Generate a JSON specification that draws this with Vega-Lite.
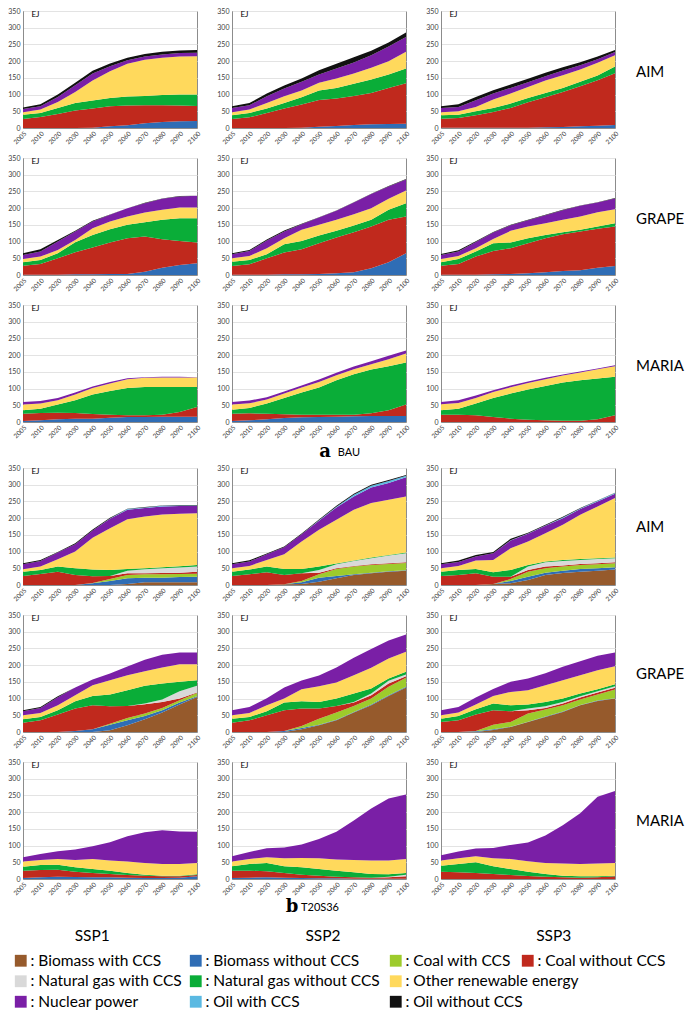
{
  "$schema": "https://vega.github.io/schema/vega-lite/v6.json",
  "background": "white",
  "padding": {"left": 7, "top": 6, "right": 0, "bottom": 0},
  "config": {
    "font": "Lato",
    "view": {"stroke": "#8c8c8c", "strokeWidth": 1},
    "axis": {"labelFont": "Lato", "labelColor": "#404040", "domainColor": "#8c8c8c", "ticks": false, "gridColor": "#e3e3e3"},
    "legend": {"symbolType": "square", "symbolSize": 140, "symbolStrokeWidth": 0, "labelFont": "Lato", "labelFontSize": 15.5, "labelColor": "black", "rowPadding": 3.5, "labelOffset": 2, "labelLimit": 300}
  },
  "datasets": {
    "energy": [
      {"scenario":"BAU","model":"AIM","ssp":"SSP1","source":"Biomass without CCS","2005":0,"2010":0,"2020":0,"2030":0,"2040":1,"2050":5,"2060":8,"2070":14,"2080":18,"2090":20,"2100":21},
      {"scenario":"BAU","model":"AIM","ssp":"SSP1","source":"Coal without CCS","2005":27,"2010":33,"2020":42,"2030":52,"2040":57,"2050":60,"2060":59,"2070":54,"2080":50,"2090":47,"2100":45},
      {"scenario":"BAU","model":"AIM","ssp":"SSP1","source":"Natural gas without CCS","2005":13,"2010":12,"2020":18,"2030":23,"2040":24,"2050":25,"2060":27,"2070":28,"2080":31,"2090":33,"2100":34},
      {"scenario":"BAU","model":"AIM","ssp":"SSP1","source":"Other renewable energy","2005":7,"2010":10,"2020":18,"2030":33,"2040":60,"2050":80,"2060":98,"2070":108,"2080":111,"2090":114,"2100":115},
      {"scenario":"BAU","model":"AIM","ssp":"SSP1","source":"Nuclear power","2005":10,"2010":10,"2020":15,"2030":20,"2040":21,"2050":15,"2060":11,"2070":10,"2080":10,"2090":10,"2100":10},
      {"scenario":"BAU","model":"AIM","ssp":"SSP1","source":"Oil without CCS","2005":4,"2010":6,"2020":7,"2030":7,"2040":8,"2050":8,"2060":7,"2070":7,"2080":8,"2090":8,"2100":8},

      {"scenario":"BAU","model":"AIM","ssp":"SSP2","source":"Biomass without CCS","2005":0,"2010":0,"2020":0,"2030":0,"2040":1,"2050":4,"2060":6,"2070":9,"2080":11,"2090":12,"2100":13},
      {"scenario":"BAU","model":"AIM","ssp":"SSP2","source":"Coal without CCS","2005":27,"2010":32,"2020":45,"2030":58,"2040":69,"2050":80,"2060":82,"2070":87,"2080":94,"2090":108,"2100":121},
      {"scenario":"BAU","model":"AIM","ssp":"SSP2","source":"Natural gas without CCS","2005":11,"2010":13,"2020":13,"2030":17,"2040":22,"2050":28,"2060":32,"2070":36,"2080":40,"2090":40,"2100":44},
      {"scenario":"BAU","model":"AIM","ssp":"SSP2","source":"Other renewable energy","2005":9,"2010":10,"2020":17,"2030":20,"2040":20,"2050":23,"2060":28,"2070":31,"2080":35,"2090":40,"2100":50},
      {"scenario":"BAU","model":"AIM","ssp":"SSP2","source":"Nuclear power","2005":13,"2010":13,"2020":20,"2030":23,"2040":26,"2050":25,"2060":30,"2070":33,"2080":38,"2090":44,"2100":44},
      {"scenario":"BAU","model":"AIM","ssp":"SSP2","source":"Oil without CCS","2005":5,"2010":7,"2020":8,"2030":9,"2040":10,"2050":13,"2060":14,"2070":16,"2080":13,"2090":12,"2100":14},

      {"scenario":"BAU","model":"AIM","ssp":"SSP3","source":"Biomass without CCS","2005":1,"2010":1,"2020":1,"2030":1,"2040":1,"2050":1,"2060":2,"2070":3,"2080":5,"2090":7,"2100":9},
      {"scenario":"BAU","model":"AIM","ssp":"SSP3","source":"Coal without CCS","2005":27,"2010":29,"2020":37,"2030":47,"2040":59,"2050":76,"2060":90,"2070":105,"2080":120,"2090":136,"2100":155},
      {"scenario":"BAU","model":"AIM","ssp":"SSP3","source":"Natural gas without CCS","2005":10,"2010":10,"2020":12,"2030":12,"2040":13,"2050":13,"2060":13,"2070":12,"2080":13,"2090":14,"2100":20},
      {"scenario":"BAU","model":"AIM","ssp":"SSP3","source":"Other renewable energy","2005":9,"2010":10,"2020":13,"2030":25,"2040":30,"2050":33,"2060":37,"2070":38,"2080":37,"2090":38,"2100":34},
      {"scenario":"BAU","model":"AIM","ssp":"SSP3","source":"Nuclear power","2005":13,"2010":13,"2020":20,"2030":18,"2040":17,"2050":14,"2060":13,"2070":14,"2080":13,"2090":11,"2100":9},
      {"scenario":"BAU","model":"AIM","ssp":"SSP3","source":"Oil without CCS","2005":5,"2010":8,"2020":10,"2030":10,"2040":10,"2050":10,"2060":10,"2070":10,"2080":9,"2090":8,"2100":6},

      {"scenario":"BAU","model":"GRAPE","ssp":"SSP1","source":"Biomass without CCS","2005":1,"2010":1,"2020":1,"2030":2,"2040":2,"2050":3,"2060":3,"2070":10,"2080":22,"2090":30,"2100":35},
      {"scenario":"BAU","model":"GRAPE","ssp":"SSP1","source":"Coal without CCS","2005":27,"2010":32,"2020":49,"2030":66,"2040":80,"2050":94,"2060":107,"2070":105,"2080":85,"2090":72,"2100":62},
      {"scenario":"BAU","model":"GRAPE","ssp":"SSP1","source":"Natural gas without CCS","2005":10,"2010":12,"2020":15,"2030":30,"2040":38,"2050":40,"2060":40,"2070":43,"2080":58,"2090":68,"2100":73},
      {"scenario":"BAU","model":"GRAPE","ssp":"SSP1","source":"Other renewable energy","2005":10,"2010":10,"2020":10,"2030":7,"2040":20,"2050":23,"2060":25,"2070":29,"2080":30,"2090":32,"2100":32},
      {"scenario":"BAU","model":"GRAPE","ssp":"SSP1","source":"Nuclear power","2005":12,"2010":15,"2020":25,"2030":25,"2040":20,"2050":20,"2060":25,"2070":28,"2080":33,"2090":33,"2100":35},
      {"scenario":"BAU","model":"GRAPE","ssp":"SSP1","source":"Oil without CCS","2005":5,"2010":7,"2020":5,"2030":2,"2040":2,"2050":1,"2060":0,"2070":1,"2080":1,"2090":1,"2100":0},

      {"scenario":"BAU","model":"GRAPE","ssp":"SSP2","source":"Biomass without CCS","2005":1,"2010":1,"2020":1,"2030":2,"2040":2,"2050":3,"2060":5,"2070":8,"2080":20,"2090":38,"2100":65},
      {"scenario":"BAU","model":"GRAPE","ssp":"SSP2","source":"Coal without CCS","2005":26,"2010":31,"2020":49,"2030":65,"2040":75,"2050":92,"2060":107,"2070":120,"2080":125,"2090":127,"2100":110},
      {"scenario":"BAU","model":"GRAPE","ssp":"SSP2","source":"Natural gas without CCS","2005":13,"2010":13,"2020":12,"2030":25,"2040":25,"2050":23,"2060":20,"2070":20,"2080":20,"2090":30,"2100":40},
      {"scenario":"BAU","model":"GRAPE","ssp":"SSP2","source":"Other renewable energy","2005":10,"2010":12,"2020":18,"2030":18,"2040":33,"2050":32,"2060":33,"2070":34,"2080":35,"2090":33,"2100":38},
      {"scenario":"BAU","model":"GRAPE","ssp":"SSP2","source":"Nuclear power","2005":12,"2010":15,"2020":23,"2030":20,"2040":17,"2050":22,"2060":27,"2070":35,"2080":42,"2090":37,"2100":33},
      {"scenario":"BAU","model":"GRAPE","ssp":"SSP2","source":"Oil without CCS","2005":3,"2010":3,"2020":3,"2030":3,"2040":1,"2050":1,"2060":1,"2070":1,"2080":1,"2090":1,"2100":1},

      {"scenario":"BAU","model":"GRAPE","ssp":"SSP3","source":"Biomass without CCS","2005":1,"2010":1,"2020":1,"2030":2,"2040":3,"2050":5,"2060":8,"2070":12,"2080":14,"2090":22,"2100":27},
      {"scenario":"BAU","model":"GRAPE","ssp":"SSP3","source":"Coal without CCS","2005":27,"2010":32,"2020":54,"2030":70,"2040":77,"2050":90,"2060":102,"2070":110,"2080":116,"2090":116,"2100":118},
      {"scenario":"BAU","model":"GRAPE","ssp":"SSP3","source":"Natural gas without CCS","2005":10,"2010":15,"2020":15,"2030":23,"2040":17,"2050":15,"2060":10,"2070":6,"2080":5,"2090":7,"2100":10},
      {"scenario":"BAU","model":"GRAPE","ssp":"SSP3","source":"Other renewable energy","2005":10,"2010":9,"2020":10,"2030":13,"2040":35,"2050":35,"2060":35,"2070":37,"2080":40,"2090":43,"2100":42},
      {"scenario":"BAU","model":"GRAPE","ssp":"SSP3","source":"Nuclear power","2005":12,"2010":13,"2020":19,"2030":19,"2040":17,"2050":19,"2060":24,"2070":29,"2080":32,"2090":29,"2100":32},
      {"scenario":"BAU","model":"GRAPE","ssp":"SSP3","source":"Oil without CCS","2005":3,"2010":4,"2020":2,"2030":2,"2040":1,"2050":1,"2060":1,"2070":1,"2080":1,"2090":1,"2100":1},

      {"scenario":"BAU","model":"MARIA","ssp":"SSP1","source":"Biomass without CCS","2005":3,"2010":5,"2020":8,"2030":10,"2040":10,"2050":13,"2060":15,"2070":15,"2080":16,"2090":16,"2100":16},
      {"scenario":"BAU","model":"MARIA","ssp":"SSP1","source":"Coal without CCS","2005":22,"2010":22,"2020":20,"2030":17,"2040":14,"2050":9,"2060":5,"2070":5,"2080":6,"2090":14,"2100":29},
      {"scenario":"BAU","model":"MARIA","ssp":"SSP1","source":"Natural gas without CCS","2005":10,"2010":13,"2020":24,"2030":38,"2040":58,"2050":71,"2060":82,"2070":85,"2080":83,"2090":75,"2100":60},
      {"scenario":"BAU","model":"MARIA","ssp":"SSP1","source":"Other renewable energy","2005":17,"2010":15,"2020":13,"2030":17,"2040":20,"2050":22,"2060":26,"2070":27,"2080":28,"2090":28,"2100":28},
      {"scenario":"BAU","model":"MARIA","ssp":"SSP1","source":"Nuclear power","2005":8,"2010":8,"2020":7,"2030":6,"2040":4,"2050":5,"2060":3,"2070":2,"2080":2,"2090":2,"2100":1},

      {"scenario":"BAU","model":"MARIA","ssp":"SSP2","source":"Biomass without CCS","2005":3,"2010":5,"2020":8,"2030":12,"2040":14,"2050":15,"2060":16,"2070":17,"2080":18,"2090":18,"2100":18},
      {"scenario":"BAU","model":"MARIA","ssp":"SSP2","source":"Coal without CCS","2005":22,"2010":21,"2020":17,"2030":11,"2040":8,"2050":7,"2060":6,"2070":5,"2080":8,"2090":17,"2100":34},
      {"scenario":"BAU","model":"MARIA","ssp":"SSP2","source":"Natural gas without CCS","2005":12,"2010":16,"2020":30,"2030":49,"2040":66,"2050":81,"2060":103,"2070":121,"2080":131,"2090":132,"2100":126},
      {"scenario":"BAU","model":"MARIA","ssp":"SSP2","source":"Other renewable energy","2005":15,"2010":14,"2020":12,"2030":13,"2040":15,"2050":17,"2060":15,"2070":15,"2080":16,"2090":21,"2100":27},
      {"scenario":"BAU","model":"MARIA","ssp":"SSP2","source":"Nuclear power","2005":8,"2010":8,"2020":7,"2030":6,"2040":6,"2050":7,"2060":7,"2070":8,"2080":9,"2090":10,"2100":9},

      {"scenario":"BAU","model":"MARIA","ssp":"SSP3","source":"Coal without CCS","2005":22,"2010":22,"2020":20,"2030":15,"2040":10,"2050":7,"2060":5,"2070":4,"2080":4,"2090":8,"2100":20},
      {"scenario":"BAU","model":"MARIA","ssp":"SSP3","source":"Natural gas without CCS","2005":13,"2010":18,"2020":35,"2030":57,"2040":75,"2050":90,"2060":103,"2070":114,"2080":121,"2090":122,"2100":115},
      {"scenario":"BAU","model":"MARIA","ssp":"SSP3","source":"Other renewable energy","2005":18,"2010":17,"2020":17,"2030":18,"2040":19,"2050":20,"2060":20,"2070":21,"2080":23,"2090":28,"2100":32},
      {"scenario":"BAU","model":"MARIA","ssp":"SSP3","source":"Nuclear power","2005":7,"2010":8,"2020":7,"2030":5,"2040":5,"2050":4,"2060":4,"2070":3,"2080":3,"2090":2,"2100":3},

      {"scenario":"T20S36","model":"AIM","ssp":"SSP1","source":"Biomass with CCS","2005":0,"2010":0,"2020":0,"2030":0,"2040":0,"2050":0,"2060":3,"2070":8,"2080":8,"2090":8,"2100":8},
      {"scenario":"T20S36","model":"AIM","ssp":"SSP1","source":"Biomass without CCS","2005":0,"2010":0,"2020":0,"2030":0,"2040":5,"2050":12,"2060":17,"2070":14,"2080":14,"2090":16,"2100":17},
      {"scenario":"T20S36","model":"AIM","ssp":"SSP1","source":"Coal with CCS","2005":0,"2010":0,"2020":0,"2030":0,"2040":1,"2050":6,"2060":10,"2070":10,"2080":10,"2090":9,"2100":9},
      {"scenario":"T20S36","model":"AIM","ssp":"SSP1","source":"Coal without CCS","2005":27,"2010":33,"2020":40,"2030":30,"2040":20,"2050":9,"2060":5,"2070":3,"2080":4,"2090":4,"2100":6},
      {"scenario":"T20S36","model":"AIM","ssp":"SSP1","source":"Natural gas with CCS","2005":0,"2010":0,"2020":0,"2030":0,"2040":0,"2050":0,"2060":8,"2070":12,"2080":14,"2090":15,"2100":15},
      {"scenario":"T20S36","model":"AIM","ssp":"SSP1","source":"Natural gas without CCS","2005":13,"2010":12,"2020":15,"2030":20,"2040":20,"2050":18,"2060":5,"2070":3,"2080":3,"2090":4,"2100":5},
      {"scenario":"T20S36","model":"AIM","ssp":"SSP1","source":"Other renewable energy","2005":7,"2010":10,"2020":22,"2030":50,"2040":95,"2050":125,"2060":149,"2070":155,"2080":158,"2090":157,"2100":155},
      {"scenario":"T20S36","model":"AIM","ssp":"SSP1","source":"Nuclear power","2005":15,"2010":17,"2020":20,"2030":22,"2040":22,"2050":28,"2060":28,"2070":25,"2080":24,"2090":23,"2100":21},
      {"scenario":"T20S36","model":"AIM","ssp":"SSP1","source":"Oil with CCS","2005":0,"2010":0,"2020":0,"2030":0,"2040":0,"2050":1,"2060":2,"2070":2,"2080":2,"2090":2,"2100":2},
      {"scenario":"T20S36","model":"AIM","ssp":"SSP1","source":"Oil without CCS","2005":3,"2010":3,"2020":2,"2030":3,"2040":3,"2050":2,"2060":1,"2070":1,"2080":1,"2090":1,"2100":1},

      {"scenario":"T20S36","model":"AIM","ssp":"SSP2","source":"Biomass with CCS","2005":0,"2010":0,"2020":0,"2030":2,"2040":3,"2050":10,"2060":20,"2070":30,"2080":35,"2090":40,"2100":43},
      {"scenario":"T20S36","model":"AIM","ssp":"SSP2","source":"Biomass without CCS","2005":0,"2010":0,"2020":0,"2030":0,"2040":5,"2050":12,"2060":7,"2070":2,"2080":2,"2090":1,"2100":1},
      {"scenario":"T20S36","model":"AIM","ssp":"SSP2","source":"Coal with CCS","2005":0,"2010":0,"2020":0,"2030":0,"2040":4,"2050":10,"2060":21,"2070":23,"2080":23,"2090":22,"2100":22},
      {"scenario":"T20S36","model":"AIM","ssp":"SSP2","source":"Coal without CCS","2005":27,"2010":32,"2020":38,"2030":28,"2040":23,"2050":5,"2060":2,"2070":2,"2080":2,"2090":2,"2100":2},
      {"scenario":"T20S36","model":"AIM","ssp":"SSP2","source":"Natural gas with CCS","2005":0,"2010":0,"2020":0,"2030":0,"2040":0,"2050":8,"2060":12,"2070":15,"2080":18,"2090":23,"2100":27},
      {"scenario":"T20S36","model":"AIM","ssp":"SSP2","source":"Natural gas without CCS","2005":13,"2010":14,"2020":17,"2030":18,"2040":13,"2050":10,"2060":2,"2070":1,"2080":2,"2090":2,"2100":2},
      {"scenario":"T20S36","model":"AIM","ssp":"SSP2","source":"Other renewable energy","2005":10,"2010":11,"2020":20,"2030":44,"2040":82,"2050":110,"2060":131,"2070":152,"2080":163,"2090":165,"2100":168},
      {"scenario":"T20S36","model":"AIM","ssp":"SSP2","source":"Nuclear power","2005":12,"2010":13,"2020":17,"2030":21,"2040":22,"2050":27,"2060":37,"2070":40,"2080":47,"2090":50,"2100":57},
      {"scenario":"T20S36","model":"AIM","ssp":"SSP2","source":"Oil with CCS","2005":0,"2010":0,"2020":0,"2030":0,"2040":0,"2050":2,"2060":2,"2070":5,"2080":5,"2090":6,"2100":5},
      {"scenario":"T20S36","model":"AIM","ssp":"SSP2","source":"Oil without CCS","2005":3,"2010":4,"2020":2,"2030":2,"2040":2,"2050":2,"2060":3,"2070":3,"2080":3,"2090":3,"2100":2},

      {"scenario":"T20S36","model":"AIM","ssp":"SSP3","source":"Biomass with CCS","2005":0,"2010":0,"2020":0,"2030":3,"2040":5,"2050":15,"2060":30,"2070":36,"2080":40,"2090":43,"2100":46},
      {"scenario":"T20S36","model":"AIM","ssp":"SSP3","source":"Biomass without CCS","2005":0,"2010":0,"2020":0,"2030":0,"2040":7,"2050":10,"2060":7,"2070":7,"2080":8,"2090":7,"2100":7},
      {"scenario":"T20S36","model":"AIM","ssp":"SSP3","source":"Coal with CCS","2005":0,"2010":0,"2020":0,"2030":0,"2040":6,"2050":15,"2060":13,"2070":12,"2080":12,"2090":12,"2100":12},
      {"scenario":"T20S36","model":"AIM","ssp":"SSP3","source":"Coal without CCS","2005":27,"2010":30,"2020":35,"2030":22,"2040":7,"2050":5,"2060":5,"2070":3,"2080":3,"2090":3,"2100":3},
      {"scenario":"T20S36","model":"AIM","ssp":"SSP3","source":"Natural gas with CCS","2005":0,"2010":0,"2020":0,"2030":0,"2040":0,"2050":10,"2060":13,"2070":14,"2080":12,"2090":13,"2100":12},
      {"scenario":"T20S36","model":"AIM","ssp":"SSP3","source":"Natural gas without CCS","2005":13,"2010":15,"2020":13,"2030":13,"2040":20,"2050":5,"2060":2,"2070":3,"2080":3,"2090":2,"2100":2},
      {"scenario":"T20S36","model":"AIM","ssp":"SSP3","source":"Other renewable energy","2005":10,"2010":12,"2020":25,"2030":37,"2040":65,"2050":70,"2060":85,"2070":105,"2080":132,"2090":155,"2100":178},
      {"scenario":"T20S36","model":"AIM","ssp":"SSP3","source":"Nuclear power","2005":12,"2010":12,"2020":12,"2030":20,"2040":23,"2050":23,"2060":22,"2070":20,"2080":17,"2090":15,"2100":13},
      {"scenario":"T20S36","model":"AIM","ssp":"SSP3","source":"Oil with CCS","2005":0,"2010":0,"2020":0,"2030":0,"2040":1,"2050":1,"2060":1,"2070":2,"2080":2,"2090":2,"2100":2},
      {"scenario":"T20S36","model":"AIM","ssp":"SSP3","source":"Oil without CCS","2005":3,"2010":4,"2020":5,"2030":4,"2040":4,"2050":2,"2060":2,"2070":2,"2080":1,"2090":1,"2100":1},

      {"scenario":"T20S36","model":"GRAPE","ssp":"SSP1","source":"Biomass with CCS","2005":0,"2010":0,"2020":0,"2030":0,"2040":0,"2050":5,"2060":20,"2070":38,"2080":58,"2090":82,"2100":105},
      {"scenario":"T20S36","model":"GRAPE","ssp":"SSP1","source":"Biomass without CCS","2005":0,"2010":0,"2020":0,"2030":3,"2040":8,"2050":17,"2060":15,"2070":10,"2080":7,"2090":6,"2100":2},
      {"scenario":"T20S36","model":"GRAPE","ssp":"SSP1","source":"Coal with CCS","2005":0,"2010":0,"2020":0,"2030":0,"2040":0,"2050":3,"2060":7,"2070":7,"2080":7,"2090":7,"2100":10},
      {"scenario":"T20S36","model":"GRAPE","ssp":"SSP1","source":"Coal without CCS","2005":28,"2010":35,"2020":52,"2030":67,"2040":72,"2050":52,"2060":36,"2070":28,"2080":18,"2090":5,"2100":1},
      {"scenario":"T20S36","model":"GRAPE","ssp":"SSP1","source":"Natural gas with CCS","2005":0,"2010":0,"2020":0,"2030":0,"2040":0,"2050":0,"2060":0,"2070":2,"2080":7,"2090":22,"2100":20},
      {"scenario":"T20S36","model":"GRAPE","ssp":"SSP1","source":"Natural gas without CCS","2005":10,"2010":10,"2020":13,"2030":22,"2040":28,"2050":35,"2060":47,"2070":53,"2080":48,"2090":28,"2100":17},
      {"scenario":"T20S36","model":"GRAPE","ssp":"SSP1","source":"Other renewable energy","2005":12,"2010":12,"2020":15,"2030":18,"2040":32,"2050":43,"2060":45,"2070":44,"2080":48,"2090":53,"2100":48},
      {"scenario":"T20S36","model":"GRAPE","ssp":"SSP1","source":"Nuclear power","2005":12,"2010":15,"2020":24,"2030":23,"2040":17,"2050":20,"2060":26,"2070":34,"2080":38,"2090":35,"2100":35},
      {"scenario":"T20S36","model":"GRAPE","ssp":"SSP1","source":"Oil without CCS","2005":3,"2010":3,"2020":3,"2030":0,"2040":0,"2050":0,"2060":0,"2070":0,"2080":0,"2090":0,"2100":0},

      {"scenario":"T20S36","model":"GRAPE","ssp":"SSP2","source":"Biomass with CCS","2005":0,"2010":0,"2020":0,"2030":0,"2040":8,"2050":20,"2060":35,"2070":58,"2080":80,"2090":108,"2100":133},
      {"scenario":"T20S36","model":"GRAPE","ssp":"SSP2","source":"Biomass without CCS","2005":0,"2010":0,"2020":0,"2030":3,"2040":4,"2050":2,"2060":2,"2070":2,"2080":2,"2090":2,"2100":2},
      {"scenario":"T20S36","model":"GRAPE","ssp":"SSP2","source":"Coal with CCS","2005":0,"2010":0,"2020":0,"2030":0,"2040":6,"2050":18,"2060":21,"2070":18,"2080":18,"2090":25,"2100":27},
      {"scenario":"T20S36","model":"GRAPE","ssp":"SSP2","source":"Coal without CCS","2005":28,"2010":35,"2020":50,"2030":62,"2040":52,"2050":30,"2060":20,"2070":10,"2080":10,"2090":10,"2100":5},
      {"scenario":"T20S36","model":"GRAPE","ssp":"SSP2","source":"Natural gas with CCS","2005":0,"2010":0,"2020":0,"2030":0,"2040":0,"2050":0,"2060":0,"2070":2,"2080":5,"2090":8,"2100":5},
      {"scenario":"T20S36","model":"GRAPE","ssp":"SSP2","source":"Natural gas without CCS","2005":12,"2010":10,"2020":12,"2030":23,"2040":22,"2050":20,"2060":22,"2070":25,"2080":15,"2090":7,"2100":8},
      {"scenario":"T20S36","model":"GRAPE","ssp":"SSP2","source":"Other renewable energy","2005":10,"2010":12,"2020":18,"2030":12,"2040":36,"2050":47,"2060":48,"2070":55,"2080":62,"2090":60,"2100":60},
      {"scenario":"T20S36","model":"GRAPE","ssp":"SSP2","source":"Nuclear power","2005":15,"2010":18,"2020":21,"2030":33,"2040":26,"2050":32,"2060":45,"2070":52,"2080":56,"2090":54,"2100":52},

      {"scenario":"T20S36","model":"GRAPE","ssp":"SSP3","source":"Biomass with CCS","2005":0,"2010":0,"2020":0,"2030":6,"2040":15,"2050":30,"2060":45,"2070":60,"2080":80,"2090":93,"2100":100},
      {"scenario":"T20S36","model":"GRAPE","ssp":"SSP3","source":"Biomass without CCS","2005":0,"2010":0,"2020":2,"2030":2,"2040":1,"2050":1,"2060":1,"2070":1,"2080":1,"2090":1,"2100":1},
      {"scenario":"T20S36","model":"GRAPE","ssp":"SSP3","source":"Coal with CCS","2005":0,"2010":0,"2020":1,"2030":14,"2040":14,"2050":24,"2060":21,"2070":19,"2080":16,"2090":18,"2100":26},
      {"scenario":"T20S36","model":"GRAPE","ssp":"SSP3","source":"Coal without CCS","2005":30,"2010":35,"2020":49,"2030":43,"2040":32,"2050":10,"2060":5,"2070":5,"2080":6,"2090":6,"2100":5},
      {"scenario":"T20S36","model":"GRAPE","ssp":"SSP3","source":"Natural gas with CCS","2005":0,"2010":0,"2020":0,"2030":0,"2040":0,"2050":5,"2060":5,"2070":5,"2080":4,"2090":4,"2100":5},
      {"scenario":"T20S36","model":"GRAPE","ssp":"SSP3","source":"Natural gas without CCS","2005":10,"2010":13,"2020":16,"2030":20,"2040":18,"2050":12,"2060":13,"2070":10,"2080":8,"2090":6,"2100":6},
      {"scenario":"T20S36","model":"GRAPE","ssp":"SSP3","source":"Other renewable energy","2005":10,"2010":10,"2020":14,"2030":23,"2040":40,"2050":43,"2060":50,"2070":55,"2080":55,"2090":57,"2100":54},
      {"scenario":"T20S36","model":"GRAPE","ssp":"SSP3","source":"Nuclear power","2005":15,"2010":17,"2020":21,"2030":21,"2040":30,"2050":35,"2060":36,"2070":40,"2080":42,"2090":43,"2100":41},

      {"scenario":"T20S36","model":"MARIA","ssp":"SSP1","source":"Biomass without CCS","2005":3,"2010":5,"2020":7,"2030":6,"2040":5,"2050":5,"2060":4,"2070":3,"2080":3,"2090":4,"2100":8},
      {"scenario":"T20S36","model":"MARIA","ssp":"SSP1","source":"Coal without CCS","2005":22,"2010":22,"2020":21,"2030":16,"2040":13,"2050":10,"2060":8,"2070":7,"2080":5,"2090":4,"2100":4},
      {"scenario":"T20S36","model":"MARIA","ssp":"SSP1","source":"Natural gas without CCS","2005":12,"2010":15,"2020":15,"2030":13,"2040":12,"2050":10,"2060":6,"2070":3,"2080":2,"2090":2,"2100":2},
      {"scenario":"T20S36","model":"MARIA","ssp":"SSP1","source":"Other renewable energy","2005":15,"2010":15,"2020":17,"2030":22,"2040":30,"2050":30,"2060":34,"2070":35,"2080":35,"2090":35,"2100":34},
      {"scenario":"T20S36","model":"MARIA","ssp":"SSP1","source":"Nuclear power","2005":13,"2010":18,"2020":23,"2030":31,"2040":38,"2050":55,"2060":76,"2070":92,"2080":101,"2090":97,"2100":93},

      {"scenario":"T20S36","model":"MARIA","ssp":"SSP2","source":"Biomass without CCS","2005":3,"2010":4,"2020":5,"2030":4,"2040":3,"2050":2,"2060":2,"2070":1,"2080":1,"2090":1,"2100":1},
      {"scenario":"T20S36","model":"MARIA","ssp":"SSP2","source":"Coal without CCS","2005":22,"2010":21,"2020":18,"2030":14,"2040":10,"2050":8,"2060":5,"2070":4,"2080":3,"2090":4,"2100":7},
      {"scenario":"T20S36","model":"MARIA","ssp":"SSP2","source":"Natural gas with CCS","2005":0,"2010":0,"2020":0,"2030":0,"2040":0,"2050":0,"2060":0,"2070":0,"2080":0,"2090":2,"2100":5},
      {"scenario":"T20S36","model":"MARIA","ssp":"SSP2","source":"Natural gas without CCS","2005":13,"2010":20,"2020":25,"2030":20,"2040":22,"2050":20,"2060":18,"2070":15,"2080":11,"2090":7,"2100":5},
      {"scenario":"T20S36","model":"MARIA","ssp":"SSP2","source":"Other renewable energy","2005":14,"2010":15,"2020":17,"2030":24,"2040":28,"2050":32,"2060":33,"2070":37,"2080":40,"2090":41,"2100":42},
      {"scenario":"T20S36","model":"MARIA","ssp":"SSP2","source":"Nuclear power","2005":16,"2010":21,"2020":27,"2030":32,"2040":40,"2050":58,"2060":83,"2070":118,"2080":156,"2090":186,"2100":193},

      {"scenario":"T20S36","model":"MARIA","ssp":"SSP3","source":"Coal without CCS","2005":22,"2010":20,"2020":18,"2030":15,"2040":12,"2050":9,"2060":7,"2070":5,"2080":4,"2090":5,"2100":8},
      {"scenario":"T20S36","model":"MARIA","ssp":"SSP3","source":"Natural gas without CCS","2005":18,"2010":25,"2020":32,"2030":23,"2040":18,"2050":13,"2060":8,"2070":5,"2080":4,"2090":3,"2100":2},
      {"scenario":"T20S36","model":"MARIA","ssp":"SSP3","source":"Other renewable energy","2005":15,"2010":17,"2020":18,"2030":24,"2040":30,"2050":31,"2060":33,"2070":36,"2080":37,"2090":38,"2100":38},
      {"scenario":"T20S36","model":"MARIA","ssp":"SSP3","source":"Nuclear power","2005":16,"2010":20,"2020":23,"2030":31,"2040":42,"2050":56,"2060":82,"2070":115,"2080":152,"2090":200,"2100":215}
    ],
    "ssps": [{"ssp": "SSP1"}, {"ssp": "SSP2"}, {"ssp": "SSP3"}],
    "cats": [
      {"source": "Biomass with CCS"}, {"source": "Biomass without CCS"}, {"source": "Coal with CCS"}, {"source": "Coal without CCS"},
      {"source": "Natural gas with CCS"}, {"source": "Natural gas without CCS"}, {"source": "Other renewable energy"},
      {"source": "Nuclear power"}, {"source": "Oil with CCS"}, {"source": "Oil without CCS"}
    ]
  },
  "resolve": {"legend": {"color": "independent"}},
  "spacing": 2,
  "vconcat": [
    {
      "data": {"name": "energy"},
      "transform": [
        {"filter": "datum.scenario === 'BAU'"},
        {"fold": ["2005","2010","2020","2030","2040","2050","2060","2070","2080","2090","2100"], "as": ["year", "ej"]},
        {"calculate": "indexof(['Biomass with CCS','Biomass without CCS','Coal with CCS','Coal without CCS','Natural gas with CCS','Natural gas without CCS','Other renewable energy','Nuclear power','Oil with CCS','Oil without CCS'], datum.source)", "as": "rank"}
      ],
      "title": {"text": "a", "subtitle": "\u2800\u2800\u2800\u2800\u2800\u2800BAU", "orient": "bottom", "anchor": "middle", "dx": -21, "offset": 3, "font": "DejaVu Serif", "fontSize": 18, "fontWeight": "bold", "color": "black", "subtitleFont": "Lato", "subtitleFontSize": 11, "subtitleColor": "black", "subtitlePadding": -14},
      "facet": {
        "row": {"field": "model", "type": "nominal", "sort": ["AIM", "GRAPE", "MARIA"], "header": {"title": null, "labels": false}},
        "column": {"field": "ssp", "type": "nominal", "sort": ["SSP1", "SSP2", "SSP3"], "header": {"title": null, "labels": false}}
      },
      "align": "each",
      "spacing": {"row": 7, "column": 13},
      "resolve": {"axis": {"x": "independent", "y": "independent"}},
      "spec": {
        "width": 174,
        "height": 117,
        "layer": [
          {
            "mark": {"type": "area", "interpolate": "linear"},
            "encoding": {
              "x": {"field": "year", "type": "ordinal", "scale": {"type": "point", "padding": 0}, "axis": {"title": null, "labelAngle": -45, "labelFontSize": 6.5, "labelPadding": 2, "labelOverlap": false, "labelBound": false}},
              "y": {"field": "ej", "type": "quantitative", "stack": "zero", "scale": {"domain": [0, 350], "nice": false}, "axis": {"title": "EJ", "values": [0, 50, 100, 150, 200, 250, 300, 350], "labelFontSize": 7, "labelPadding": 3, "grid": true, "titleAngle": 0, "titleX": 8, "titleY": 3, "titleAlign": "left", "titleBaseline": "middle", "titleFont": "Lato", "titleFontSize": 8, "titleFontWeight": "normal", "titleColor": "black"}},
              "color": {"field": "source", "type": "nominal", "scale": {"domain": ["Biomass with CCS","Biomass without CCS","Coal with CCS","Coal without CCS","Natural gas with CCS","Natural gas without CCS","Other renewable energy","Nuclear power","Oil with CCS","Oil without CCS"], "range": ["#965a2c","#2f6db5","#9dcb2c","#c0291d","#d9d9d9","#0aad38","#ffd95c","#7a1fa6","#5ab9e2","#111111"]}, "legend": null},
              "order": {"field": "rank", "type": "quantitative"}
            }
          },
          {
            "transform": [
              {"filter": "datum.ssp === 'SSP3'"},
              {"aggregate": [{"op": "count", "as": "n"}], "groupby": ["model", "ssp"]}
            ],
            "mark": {"type": "text", "align": "left", "baseline": "middle", "dx": 21, "font": "Lato", "fontSize": 15, "color": "black"},
            "encoding": {
              "x": {"datum": "2100", "type": "ordinal", "axis": {"title": null, "labelAngle": -45, "labelFontSize": 6.5, "labelPadding": 2, "labelOverlap": false, "labelBound": false}},
              "y": {"datum": 168, "type": "quantitative", "axis": {"title": "EJ", "values": [0, 50, 100, 150, 200, 250, 300, 350], "labelFontSize": 7, "labelPadding": 3, "grid": true, "titleAngle": 0, "titleX": 8, "titleY": 3, "titleAlign": "left", "titleBaseline": "middle", "titleFont": "Lato", "titleFontSize": 8, "titleFontWeight": "normal", "titleColor": "black"}},
              "text": {"field": "model", "type": "nominal"}
            }
          }
        ]
      }
    },
    {
      "data": {"name": "energy"},
      "transform": [
        {"filter": "datum.scenario === 'T20S36'"},
        {"fold": ["2005","2010","2020","2030","2040","2050","2060","2070","2080","2090","2100"], "as": ["year", "ej"]},
        {"calculate": "indexof(['Biomass with CCS','Biomass without CCS','Coal with CCS','Coal without CCS','Natural gas with CCS','Natural gas without CCS','Other renewable energy','Nuclear power','Oil with CCS','Oil without CCS'], datum.source)", "as": "rank"}
      ],
      "title": {"text": "b", "subtitle": "\u2800\u2800\u2800\u2800\u2800\u2800\u2800T20S36", "orient": "bottom", "anchor": "middle", "dx": -54, "offset": 1, "font": "DejaVu Serif", "fontSize": 18, "fontWeight": "bold", "color": "black", "subtitleFont": "Lato", "subtitleFontSize": 11, "subtitleColor": "black", "subtitlePadding": -14},
      "facet": {
        "row": {"field": "model", "type": "nominal", "sort": ["AIM", "GRAPE", "MARIA"], "header": {"title": null, "labels": false}},
        "column": {"field": "ssp", "type": "nominal", "sort": ["SSP1", "SSP2", "SSP3"], "header": {"title": null, "labels": false}}
      },
      "align": "each",
      "spacing": {"row": 7, "column": 13},
      "resolve": {"axis": {"x": "independent", "y": "independent"}},
      "spec": {
        "width": 174,
        "height": 117,
        "layer": [
          {
            "mark": {"type": "area", "interpolate": "linear"},
            "encoding": {
              "x": {"field": "year", "type": "ordinal", "scale": {"type": "point", "padding": 0}, "axis": {"title": null, "labelAngle": -45, "labelFontSize": 6.5, "labelPadding": 2, "labelOverlap": false, "labelBound": false}},
              "y": {"field": "ej", "type": "quantitative", "stack": "zero", "scale": {"domain": [0, 350], "nice": false}, "axis": {"title": "EJ", "values": [0, 50, 100, 150, 200, 250, 300, 350], "labelFontSize": 7, "labelPadding": 3, "grid": true, "titleAngle": 0, "titleX": 8, "titleY": 3, "titleAlign": "left", "titleBaseline": "middle", "titleFont": "Lato", "titleFontSize": 8, "titleFontWeight": "normal", "titleColor": "black"}},
              "color": {"field": "source", "type": "nominal", "scale": {"domain": ["Biomass with CCS","Biomass without CCS","Coal with CCS","Coal without CCS","Natural gas with CCS","Natural gas without CCS","Other renewable energy","Nuclear power","Oil with CCS","Oil without CCS"], "range": ["#965a2c","#2f6db5","#9dcb2c","#c0291d","#d9d9d9","#0aad38","#ffd95c","#7a1fa6","#5ab9e2","#111111"]}, "legend": null},
              "order": {"field": "rank", "type": "quantitative"}
            }
          },
          {
            "transform": [
              {"filter": "datum.ssp === 'SSP3'"},
              {"aggregate": [{"op": "count", "as": "n"}], "groupby": ["model", "ssp"]}
            ],
            "mark": {"type": "text", "align": "left", "baseline": "middle", "dx": 21, "font": "Lato", "fontSize": 15, "color": "black"},
            "encoding": {
              "x": {"datum": "2100", "type": "ordinal", "axis": {"title": null, "labelAngle": -45, "labelFontSize": 6.5, "labelPadding": 2, "labelOverlap": false, "labelBound": false}},
              "y": {"datum": 175, "type": "quantitative", "axis": {"title": "EJ", "values": [0, 50, 100, 150, 200, 250, 300, 350], "labelFontSize": 7, "labelPadding": 3, "grid": true, "titleAngle": 0, "titleX": 8, "titleY": 3, "titleAlign": "left", "titleBaseline": "middle", "titleFont": "Lato", "titleFontSize": 8, "titleFontWeight": "normal", "titleColor": "black"}},
              "text": {"field": "model", "type": "nominal"}
            }
          }
        ]
      }
    },
    {
      "width": 600,
      "height": 36,
      "view": {"stroke": null},
      "resolve": {"legend": {"color": "independent"}},
      "layer": [
        {
          "data": {"name": "ssps"},
          "mark": {"type": "text", "font": "Lato", "fontSize": 15.5, "color": "black"},
          "encoding": {
            "x": {"field": "ssp", "type": "nominal", "scale": {"type": "point", "padding": 0.3}, "axis": null},
            "text": {"field": "ssp"}
          }
        },
        {
          "data": {"name": "cats"},
          "mark": {"type": "square", "opacity": 0},
          "encoding": {
            "color": {"field": "source", "type": "nominal", "scale": {"domain": ["Biomass with CCS","Biomass without CCS","Coal with CCS","Coal without CCS","Natural gas with CCS","Natural gas without CCS","Other renewable energy","Nuclear power","Oil with CCS","Oil without CCS"], "range": ["#965a2c","#2f6db5","#9dcb2c","#c0291d","#d9d9d9","#0aad38","#ffd95c","#7a1fa6","#5ab9e2","#111111"]},
              "legend": {"values": ["Biomass with CCS", "Natural gas with CCS", "Nuclear power"], "orient": "none", "legendX": -10, "legendY": 35, "title": null, "direction": "vertical", "labelExpr": "': ' + datum.label"}}
          }
        },
        {
          "data": {"name": "cats"},
          "mark": {"type": "square", "opacity": 0},
          "encoding": {
            "color": {"field": "source", "type": "nominal", "scale": {"domain": ["Biomass with CCS","Biomass without CCS","Coal with CCS","Coal without CCS","Natural gas with CCS","Natural gas without CCS","Other renewable energy","Nuclear power","Oil with CCS","Oil without CCS"], "range": ["#965a2c","#2f6db5","#9dcb2c","#c0291d","#d9d9d9","#0aad38","#ffd95c","#7a1fa6","#5ab9e2","#111111"]},
              "legend": {"values": ["Biomass without CCS", "Natural gas without CCS", "Oil with CCS"], "orient": "none", "legendX": 165, "legendY": 35, "title": null, "direction": "vertical", "labelExpr": "': ' + datum.label"}}
          }
        },
        {
          "data": {"name": "cats"},
          "mark": {"type": "square", "opacity": 0},
          "encoding": {
            "color": {"field": "source", "type": "nominal", "scale": {"domain": ["Biomass with CCS","Biomass without CCS","Coal with CCS","Coal without CCS","Natural gas with CCS","Natural gas without CCS","Other renewable energy","Nuclear power","Oil with CCS","Oil without CCS"], "range": ["#965a2c","#2f6db5","#9dcb2c","#c0291d","#d9d9d9","#0aad38","#ffd95c","#7a1fa6","#5ab9e2","#111111"]},
              "legend": {"values": ["Coal with CCS", "Other renewable energy", "Oil without CCS"], "orient": "none", "legendX": 365, "legendY": 35, "title": null, "direction": "vertical", "labelExpr": "': ' + datum.label"}}
          }
        },
        {
          "data": {"name": "cats"},
          "mark": {"type": "square", "opacity": 0},
          "encoding": {
            "color": {"field": "source", "type": "nominal", "scale": {"domain": ["Biomass with CCS","Biomass without CCS","Coal with CCS","Coal without CCS","Natural gas with CCS","Natural gas without CCS","Other renewable energy","Nuclear power","Oil with CCS","Oil without CCS"], "range": ["#965a2c","#2f6db5","#9dcb2c","#c0291d","#d9d9d9","#0aad38","#ffd95c","#7a1fa6","#5ab9e2","#111111"]},
              "legend": {"values": ["Coal without CCS"], "orient": "none", "legendX": 497, "legendY": 35, "title": null, "direction": "vertical", "labelExpr": "': ' + datum.label"}}
          }
        }
      ]
    }
  ]
}
